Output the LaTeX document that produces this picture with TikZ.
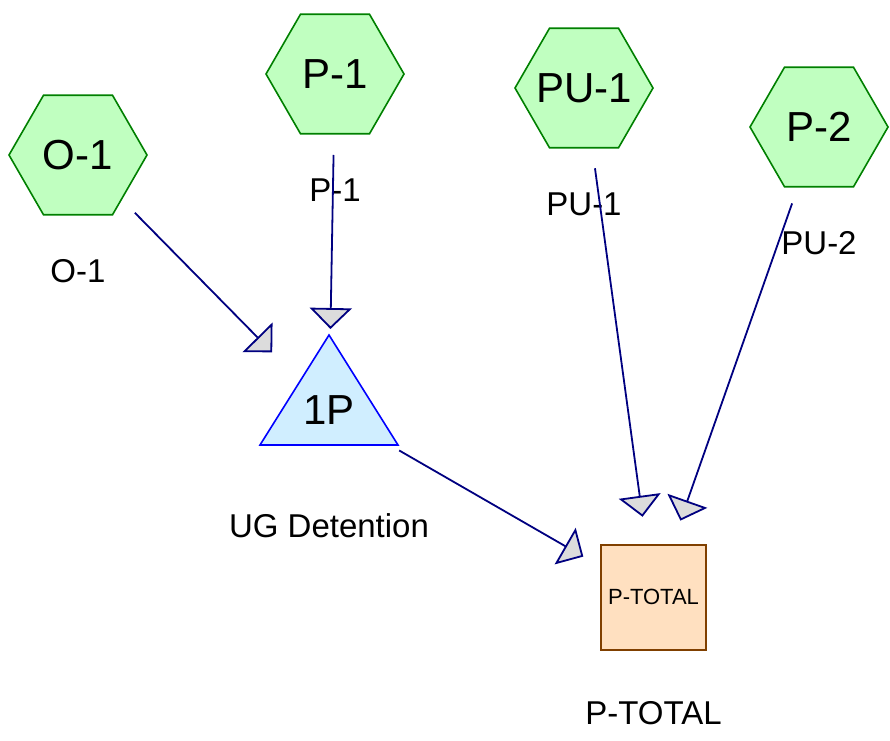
\documentclass[tikz,border=0pt]{standalone}
\usepackage{fontspec}
\setmainfont{Liberation Sans}
\usetikzlibrary{arrows.meta,shapes.geometric}

\definecolor{flowline}{RGB}{0,0,128}
\definecolor{tipgray}{RGB}{220,220,220}
\definecolor{subedge}{RGB}{0,128,0}
\definecolor{subfill}{RGB}{192,255,192}
\definecolor{pondedge}{RGB}{0,0,255}
\definecolor{pondfill}{RGB}{208,238,255}
\definecolor{linkedge}{RGB}{128,64,0}
\definecolor{linkfill}{RGB}{255,224,192}

\begin{document}
\begin{tikzpicture}[
    x=1pt, y=-1pt,
    subcat/.style={draw=subedge, fill=subfill, line width=1.6pt, regular polygon, regular polygon sides=6,
                   minimum size=138pt, inner sep=0pt, font=\fontsize{42}{48}\selectfont},
    pond/.style={draw=pondedge, fill=pondfill, line width=1.6pt, line join=miter},
    link/.style={draw=linkedge, fill=linkfill, line width=2pt, minimum size=105pt, inner sep=0pt,
                 font=\fontsize{22}{26}\selectfont},
    caption/.style={font=\fontsize{33}{40}\selectfont},
    flow/.style={draw=flowline, line width=1.8pt, shorten <=81pt, shorten >=81pt,
                 -{Triangle[length=21pt, width=42pt, fill=tipgray]}}
  ]
  \useasboundingbox (0,0) rectangle (890,740);
  \def\capGap{116}
  % subcatchments (text boxed to zero width so the hexagons keep one size)
  \foreach \name/\txt/\cap/\x/\y in {o1/{O-1}/{O-1}/78/155, p1/{P-1}/{P-1}/335/74,
                                      pu1/{PU-1}/{PU-1}/584/88, p2/{P-2}/{PU-2}/819/127} {
    \node[subcat] (\name) at (\x,\y) {\makebox[0pt]{\txt}};
    \node[caption] (\name-cap) at (\x,\y+\capGap) {\cap};
  }
  % pond
  \draw[pond] (329,335) -- (398,445) -- (260,445) -- cycle;
  \node[font=\fontsize{42}{48}\selectfont] (det) at (329,410) {1P};
  \node[caption] (det-cap) at (329,410+\capGap) {UG Detention};
  % link
  \node[link] (ptot) at (653.5,597) {P-TOTAL};
  \node[caption] (ptot-cap) at (653.5,597+\capGap) {P-TOTAL};
  % routing
  \draw[flow] (o1.center) -- (det.center);
  \draw[flow] (p1.center) -- (det.center);
  \draw[flow] (det.center) -- (ptot.center);
  \draw[flow] (pu1.center) -- (ptot.center);
  \draw[flow] (p2.center) -- (ptot.center);
\end{tikzpicture}
\end{document}
